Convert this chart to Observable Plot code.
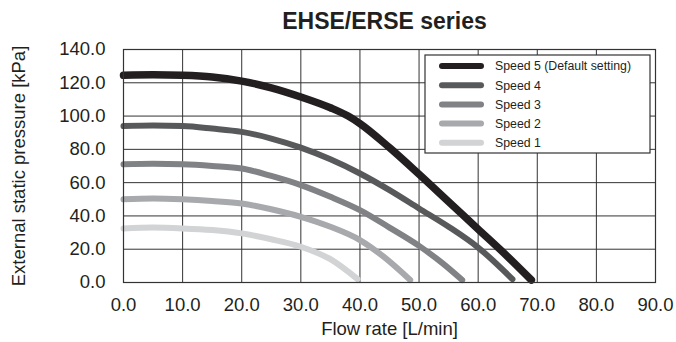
<!DOCTYPE html>
<html>
<head>
<meta charset="utf-8">
<script src="https://cdn.jsdelivr.net/npm/d3@7"></script>
<script src="https://cdn.jsdelivr.net/npm/@observablehq/plot@0.6"></script>
<style>
  html, body { margin: 0; padding: 0; background: #fff; }
  #wrap { position: relative; width: 676px; height: 342px; font-family: "Liberation Sans", Arial, sans-serif; }
  #legend { position: absolute; }
</style>
</head>
<body>
<div id="wrap"></div>
<script>
const title = "EHSE/ERSE series";
const xLabel = "Flow rate [L/min]";
const yLabel = "External static pressure [kPa]";
const xTicks = [0, 10, 20, 30, 40, 50, 60, 70, 80, 90];
const yTicks = [0, 20, 40, 60, 80, 100, 120, 140];

const seriesNames = ["Speed 5 (Default setting)", "Speed 4", "Speed 3", "Speed 2", "Speed 1"];
const seriesColors = ["#231f20", "#58595b", "#808285", "#a7a9ac", "#d1d3d4"];

const speed5Flow = [0, 5, 10, 15, 20, 25, 30, 35, 38, 40, 45, 50, 55, 60, 65, 69];
const speed5Pres = [124.5, 124.8, 124.5, 123.5, 121, 117, 111.5, 105, 100, 95.5, 81, 65, 48.5, 32, 15.5, 1.5];
const speed4Flow = [0, 5, 10, 15, 20, 25, 30, 35, 40, 45, 50, 55, 60, 65.8];
const speed4Pres = [94, 94.3, 94, 92.5, 90.5, 86.5, 81, 74, 65.5, 55.5, 44.5, 33.5, 21, 2];
const speed3Flow = [0, 5, 10, 15, 20, 25, 30, 35, 40, 45, 50, 54, 57.3];
const speed3Pres = [71, 71.3, 71, 70, 68.5, 64, 58.5, 51.5, 43.5, 33, 22, 11.5, 1.5];
const speed2Flow = [0, 5, 10, 15, 20, 25, 30, 35, 40, 44, 48.5];
const speed2Pres = [50, 50.5, 50, 49, 47.5, 44, 39.5, 33.5, 25.5, 15.5, 1.5];
const speed1Flow = [0, 5, 10, 15, 20, 25, 30, 35, 39.6];
const speed1Pres = [32.5, 33, 32.5, 31.5, 29.5, 26, 21.5, 14, 2];

const flows = [speed5Flow, speed4Flow, speed3Flow, speed2Flow, speed1Flow];
const pres = [speed5Pres, speed4Pres, speed3Pres, speed2Pres, speed1Pres];
const widths = [7.5, 6, 6, 6, 6];

const rows = [];
seriesNames.forEach((name, i) => {
  flows[i].forEach((f, j) => rows.push({series: name, idx: i, flow: f, pressure: pres[i][j]}));
});

const font = "'Liberation Sans', Arial, sans-serif";
const lineMarks = [4, 3, 2, 1, 0].map(i =>
  Plot.line(rows.filter(d => d.idx === i), {
    x: "flow", y: "pressure", stroke: seriesColors[i], strokeWidth: widths[i],
    curve: "monotone-x", strokeLinecap: "round", strokeLinejoin: "round"
  })
);

const chart = Plot.plot({
  width: 676,
  height: 342,
  marginTop: 49,
  marginBottom: 60,
  marginLeft: 123,
  marginRight: 21,
  style: { fontFamily: font, background: "#fff", color: "#231f20" },
  x: { domain: [0, 90], ticks: xTicks },
  y: { domain: [0, 140], ticks: yTicks },
  marks: [
    Plot.gridX(xTicks, { stroke: "#333", strokeOpacity: 1, strokeWidth: 1 }),
    Plot.gridY(yTicks, { stroke: "#333", strokeOpacity: 1, strokeWidth: 1 }),
    ...lineMarks,
    Plot.frame({ stroke: "#333", strokeWidth: 1.2 }),
    Plot.axisX(xTicks, { tickSize: 0, tickPadding: 15, fontSize: 18.5, tickFormat: d => d.toFixed(1), label: null }),
    Plot.axisY(yTicks, { tickSize: 0, tickPadding: 18, fontSize: 18.5, tickFormat: d => d.toFixed(1), label: null }),
    Plot.text([title], { frameAnchor: "top", lineAnchor: "middle", dy: -28, dx: -5, fontSize: 23, fontWeight: "bold", fill: "#231f20" }),
    Plot.text([xLabel], { frameAnchor: "bottom", lineAnchor: "middle", dy: 47, fontSize: 18.5, fill: "#231f20" }),
    Plot.text([yLabel], { frameAnchor: "left", textAnchor: "middle", lineAnchor: "middle", dx: -104, rotate: -90, fontSize: 18.5, fill: "#231f20" })
  ]
});

const wrap = document.getElementById("wrap");
wrap.appendChild(chart);

// Legend overlay
const lg = d3.select(wrap).append("svg")
  .attr("id", "legend")
  .attr("width", 227).attr("height", 100)
  .style("left", "424px").style("top", "54px");
lg.append("rect").attr("x", 1).attr("y", 1).attr("width", 225).attr("height", 98)
  .attr("fill", "#fff").attr("stroke", "#333").attr("stroke-width", 1.2);
seriesNames.forEach((name, i) => {
  const y = 12 + i * 19.2;
  lg.append("line").attr("x1", 18).attr("x2", 57).attr("y1", y).attr("y2", y)
    .attr("stroke", seriesColors[i]).attr("stroke-width", 6).attr("stroke-linecap", "round");
  lg.append("text").attr("x", 71).attr("y", y).attr("dy", "0.35em")
    .attr("font-size", 12.3).attr("font-family", font).attr("fill", "#231f20").text(name);
});
</script>
</body>
</html>
